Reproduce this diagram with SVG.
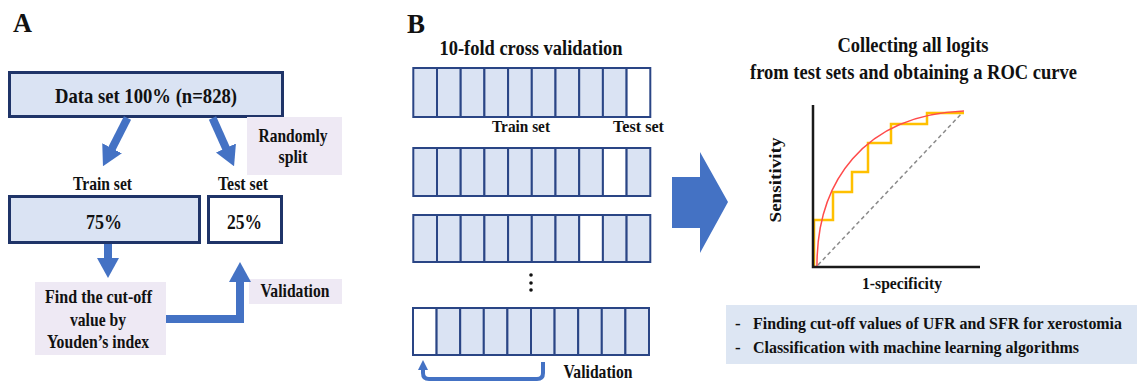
<svg xmlns="http://www.w3.org/2000/svg" width="1141" height="384" viewBox="0 0 1141 384">
<style>
text{font-family:"Liberation Serif","Times New Roman",serif;font-weight:bold;fill:#111;}
.box{fill:#dae3f3;stroke:#1f3468;stroke-width:3;}
.wbox{fill:#fff;stroke:#1f3468;stroke-width:3;}
.lav{fill:#eee9f4;}
.cell{fill:#dae3f3;stroke:#2a4585;stroke-width:2;}
.wcell{fill:#fff;stroke:#2a4585;stroke-width:2;}
.arr{stroke:#4472c4;stroke-width:8;fill:none;}
.c{text-anchor:middle;}
</style>
<defs>
<marker id="ah" viewBox="0 0 20 22" markerUnits="userSpaceOnUse" markerWidth="20" markerHeight="22" refX="1" refY="11" orient="auto">
<path d="M0,0 L20,11 L0,22 z" fill="#4472c4"/>
</marker>
<marker id="ahs" viewBox="0 0 10 10" markerUnits="userSpaceOnUse" markerWidth="10" markerHeight="10" refX="1" refY="5" orient="auto">
<path d="M0,0 L10,5 L0,10 z" fill="#4472c4"/>
</marker>
</defs>

<g id="panelA-label"><text x="13" y="32" font-size="28" textLength="19" lengthAdjust="spacingAndGlyphs">A</text></g>
<g id="panelB-label"><text x="407" y="33" font-size="28" textLength="18" lengthAdjust="spacingAndGlyphs">B</text></g>

<g id="dataset">
<rect class="box" x="9.5" y="72.5" width="273" height="44"/>
<text class="c" x="146" y="103" font-size="21" textLength="182" lengthAdjust="spacingAndGlyphs">Data set 100% (n=828)</text>
</g>
<g id="randomly-split">
<rect class="lav" x="247" y="117" width="95" height="58"/>
<text class="c" x="293" y="142" font-size="19" textLength="69" lengthAdjust="spacingAndGlyphs">Randomly</text>
<text class="c" x="293" y="163" font-size="19" textLength="29" lengthAdjust="spacingAndGlyphs">split</text>
</g>
<g id="train-label"><text class="c" x="102.5" y="190" font-size="19" textLength="59" lengthAdjust="spacingAndGlyphs">Train set</text></g>
<g id="test-label"><text class="c" x="243" y="190" font-size="19" textLength="50" lengthAdjust="spacingAndGlyphs">Test set</text></g>
<g id="train75">
<rect class="box" x="9.5" y="196.5" width="190" height="46"/>
<text class="c" x="104" y="229" font-size="21" textLength="36" lengthAdjust="spacingAndGlyphs">75%</text>
</g>
<g id="test25">
<rect class="wbox" x="208.5" y="196.5" width="73" height="46"/>
<text class="c" x="244.5" y="229" font-size="21" textLength="35" lengthAdjust="spacingAndGlyphs">25%</text>
</g>
<g id="find-cutoff">
<rect class="lav" x="35" y="282" width="131" height="73"/>
<text class="c" x="98.5" y="303" font-size="19" textLength="107" lengthAdjust="spacingAndGlyphs">Find the cut-off</text>
<text class="c" x="98" y="326" font-size="19" textLength="56" lengthAdjust="spacingAndGlyphs">value by</text>
<text class="c" x="98" y="348" font-size="19" textLength="102" lengthAdjust="spacingAndGlyphs">Youden’s index</text>
</g>
<g id="validation-a">
<rect class="lav" x="249" y="279" width="93" height="25"/>
<text class="c" x="295" y="297" font-size="19" textLength="69" lengthAdjust="spacingAndGlyphs">Validation</text>
</g>

<g id="panelB-title"><text class="c" x="531" y="55" font-size="20" textLength="183" lengthAdjust="spacingAndGlyphs">10-fold cross validation</text></g>

<g id="fold1">
<rect class="cell" x="413.3" y="68" width="23.7" height="49"/><rect class="cell" x="437" y="68" width="23.7" height="49"/><rect class="cell" x="460.7" y="68" width="23.7" height="49"/><rect class="cell" x="484.4" y="68" width="23.7" height="49"/><rect class="cell" x="508.1" y="68" width="23.7" height="49"/><rect class="cell" x="531.8" y="68" width="23.7" height="49"/><rect class="cell" x="555.5" y="68" width="23.7" height="49"/><rect class="cell" x="579.2" y="68" width="23.7" height="49"/><rect class="cell" x="602.9" y="68" width="23.7" height="49"/><rect class="wcell" x="626.6" y="68" width="23.7" height="49"/>
</g>
<g id="fold1-labels">
<text class="c" x="521" y="132" font-size="16" textLength="58" lengthAdjust="spacingAndGlyphs">Train set</text>
<text class="c" x="638.5" y="132" font-size="16" textLength="51" lengthAdjust="spacingAndGlyphs">Test set</text>
</g>
<g id="fold2">
<rect class="cell" x="413.3" y="148" width="23.7" height="48"/><rect class="cell" x="437" y="148" width="23.7" height="48"/><rect class="cell" x="460.7" y="148" width="23.7" height="48"/><rect class="cell" x="484.4" y="148" width="23.7" height="48"/><rect class="cell" x="508.1" y="148" width="23.7" height="48"/><rect class="cell" x="531.8" y="148" width="23.7" height="48"/><rect class="cell" x="555.5" y="148" width="23.7" height="48"/><rect class="cell" x="579.2" y="148" width="23.7" height="48"/><rect class="wcell" x="602.9" y="148" width="23.7" height="48"/><rect class="cell" x="626.6" y="148" width="23.7" height="48"/>
</g>
<g id="fold3">
<rect class="cell" x="413.3" y="215" width="23.7" height="47"/><rect class="cell" x="437" y="215" width="23.7" height="47"/><rect class="cell" x="460.7" y="215" width="23.7" height="47"/><rect class="cell" x="484.4" y="215" width="23.7" height="47"/><rect class="cell" x="508.1" y="215" width="23.7" height="47"/><rect class="cell" x="531.8" y="215" width="23.7" height="47"/><rect class="cell" x="555.5" y="215" width="23.7" height="47"/><rect class="wcell" x="579.2" y="215" width="23.7" height="47"/><rect class="cell" x="602.9" y="215" width="23.7" height="47"/><rect class="cell" x="626.6" y="215" width="23.7" height="47"/>
</g>
<g id="ellipsis" fill="#111">
<circle cx="531" cy="275" r="1.8"/><circle cx="531" cy="283" r="1.8"/><circle cx="531" cy="290" r="1.8"/>
</g>
<g id="fold10">
<rect class="wcell" x="413" y="308" width="23.6" height="47"/><rect class="cell" x="436.6" y="308" width="23.6" height="47"/><rect class="cell" x="460.2" y="308" width="23.6" height="47"/><rect class="cell" x="483.8" y="308" width="23.6" height="47"/><rect class="cell" x="507.4" y="308" width="23.6" height="47"/><rect class="cell" x="531" y="308" width="23.6" height="47"/><rect class="cell" x="554.6" y="308" width="23.6" height="47"/><rect class="cell" x="578.2" y="308" width="23.6" height="47"/><rect class="cell" x="601.8" y="308" width="23.6" height="47"/><rect class="cell" x="625.4" y="308" width="23.6" height="47"/>
</g>
<g id="validation-b"><text class="c" x="598" y="378" font-size="19" textLength="69" lengthAdjust="spacingAndGlyphs">Validation</text></g>

<g id="roc-title">
<text class="c" x="913" y="52" font-size="21" textLength="151" lengthAdjust="spacingAndGlyphs">Collecting all logits</text>
<text class="c" x="913.5" y="79" font-size="21" textLength="327" lengthAdjust="spacingAndGlyphs">from test sets and obtaining a ROC curve</text>
</g>
<g id="roc-chart">
<path d="M818,265 L963,112" stroke="#8a8a8a" stroke-width="1.5" stroke-dasharray="4 3" fill="none"/>
<path d="M814,267 V220 H833 V192 H852 V172 H868 V143 H891 V124 H927 V113 H964" stroke="#ffc000" stroke-width="2.5" fill="none"/>
<path d="M817,268 C816,182 864,115 964,111" stroke="#ff4a4a" stroke-width="1.5" fill="none"/>
<path d="M813,105 V267 H980" stroke="#1a1a1a" stroke-width="2.5" fill="none"/>
<text class="c" x="781" y="180" font-size="17" textLength="85" lengthAdjust="spacingAndGlyphs" transform="rotate(-90 781 180)">Sensitivity</text>
<text class="c" x="902" y="289" font-size="17" textLength="80" lengthAdjust="spacingAndGlyphs">1-specificity</text>
</g>
<g id="applications">
<rect x="726" y="305" width="411" height="59" fill="#dde6f3"/>
<text x="735" y="329" font-size="17">-</text>
<text x="753" y="329" font-size="16" textLength="369" lengthAdjust="spacingAndGlyphs">Finding cut-off values of UFR and SFR for xerostomia</text>
<text x="735" y="353" font-size="17">-</text>
<text x="753" y="353" font-size="16" textLength="326" lengthAdjust="spacingAndGlyphs">Classification with machine learning algorithms</text>
</g>

<g id="connectors">
<line class="arr" x1="127.5" y1="118" x2="111.6" y2="149.2" marker-end="url(#ah)"/>
<line class="arr" x1="212.5" y1="118" x2="226.3" y2="148.9" marker-end="url(#ah)"/>
<line class="arr" x1="108" y1="244" x2="108" y2="259" marker-end="url(#ah)"/>
<polyline class="arr" points="166,319 240,319 240,281" marker-end="url(#ah)"/>
<path d="M543,362 V373 Q543,379 537,379 H429 Q423,379 423,373 V369" stroke="#4472c4" stroke-width="4" fill="none" marker-end="url(#ahs)"/>
<polygon points="672,177 700,177 700,152 728,202 700,253 700,228 672,228" fill="#4472c4"/>
</g>
</svg>
